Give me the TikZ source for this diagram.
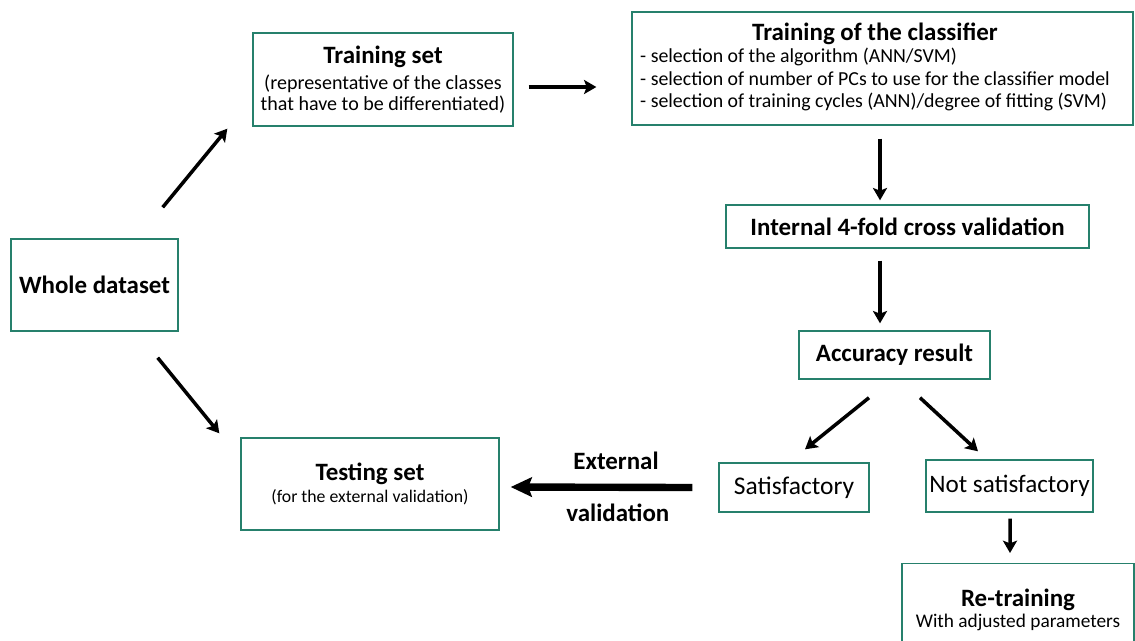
\documentclass[tikz,border=0pt]{standalone}
\usepackage{fontspec}
\setmainfont{Carlito}
\usepackage{tikz}
\usetikzlibrary{arrows.meta,calc}

\definecolor{boxgreen}{RGB}{38,128,108}

\newcommand{\ttlfont}{\fontsize{14.2}{17}\selectfont\bfseries}
\newcommand{\subfont}[1]{\fontsize{#1}{1.15\dimexpr #1pt\relax}\selectfont\mdseries}

\tikzset{
  box/.style={draw=boxgreen, line width=0.8pt, fill=white, inner sep=0pt, align=center},
  ttl/.style={font=\ttlfont},
  arr/.style={line width=2pt, -{Stealth[length=7pt,width=8pt,inset=1.5pt]}},
  bigarr/.style={line width=4.2pt, -{Stealth[length=12pt,width=11pt,inset=2pt]}},
}

\begin{document}
\begin{tikzpicture}[x=0.02cm, y=-0.02cm]
\useasboundingbox (0,0) rectangle (1135,640);

\node[box, ttl, minimum width=3.34cm, minimum height=1.84cm] (whole) at (94.5,285) {Whole dataset};
\node[box, minimum width=5.2cm, minimum height=1.86cm] (train) at (383,79.5)
  {\ttlfont Training set\\[3pt]
   \subfont{11.4}(representative of the classes\\
   \subfont{11.4}that have to be differentiated)};
\node[box, minimum width=10.02cm, minimum height=2.26cm] (clf) at (882.5,68.5)
  {\fontsize{11.3}{12.8}\selectfont
   \begin{tabular}{@{}l@{}}
   \multicolumn{1}{c}{\ttlfont Training of the classifier}\\
   - selection of the algorithm (ANN/SVM)\\
   - selection of number of PCs to use for the classifier model\\
   - selection of training cycles (ANN)/degree of fitting (SVM)
   \end{tabular}\hspace{0.3cm}};
\node[box, ttl, minimum width=7.26cm, minimum height=0.86cm] (cv) at (907.5,226.5) {Internal 4-fold cross validation};
\node[box, ttl, minimum width=3.82cm, minimum height=0.96cm] (acc) at (894.5,355) {Accuracy result};
\node[box, font=\fontsize{14.5}{17}\selectfont, minimum width=3.0cm, minimum height=0.98cm] (sat) at (794,487.5) {Satisfactory};
\node[box, font=\fontsize{14.3}{17}\selectfont, minimum width=3.34cm, minimum height=1.04cm] (notsat) at (1009.5,486) {Not satisfactory};
\node[box, minimum width=5.16cm, minimum height=1.84cm] (test) at (370,484)
  {\ttlfont Testing set\\[1pt]
   \subfont{10.1}(for the external validation)};
\node[box, anchor=north, minimum width=4.64cm, inner ysep=0.5cm] (retrain) at (1018,563)
  {\ttlfont Re-training\\[0pt]
   \subfont{11}With adjusted parameters};

\draw[arr] ($(whole.north east)+(-16,-31)$) -- ($(train.south west)+(-25,2)$);
\draw[arr] ($(whole.south east)+(-21,26)$) -- ($(test.north west)+(-21,-4)$);
\draw[arr] ($(train.east)+(15,7.5)$) -- ($(clf.west)+(-35,18.5)$);
\draw[arr] ($(clf.south)+(-2.5,13)$) -- ($(cv.north)+(-27.5,-4)$);
\draw[arr] ($(cv.south)+(-27.5,12)$) -- ($(acc.north)+(-14.5,-7)$);
\draw[arr] ($(acc.south)+(-25.5,18)$) -- ($(sat.north)+(11,-13)$);
\draw[arr] ($(acc.south)+(25.5,18)$) -- ($(notsat.north)+(-31.5,-8)$);
\draw[arr] ($(notsat.south)+(0.5,6)$) -- ($(retrain.north)+(-8,-10)$);
\draw[bigarr] ($(sat.west)+(-26,0)$) -- ($(test.east)+(11,3)$)
  node[ttl, pos=0.42, yshift=0.52cm] (extlbl) {External}
  node[ttl, pos=0.41, yshift=-0.52cm] (vallbl) {validation};
\end{tikzpicture}
\end{document}
